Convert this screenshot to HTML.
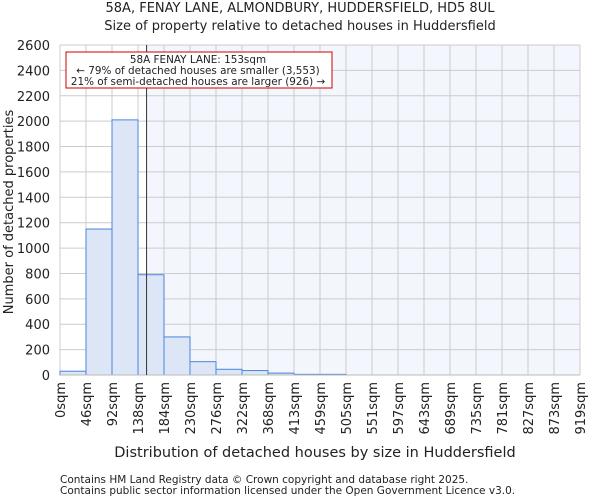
<!DOCTYPE html>
<html><head><meta charset="utf-8"><style>
body{margin:0;background:#fff;font-family:"DejaVu Sans","Liberation Sans",sans-serif;}
svg text{font-family:"DejaVu Sans","Liberation Sans",sans-serif;fill:#222}
</style></head><body>
<svg id="c" width="600" height="500">
<text x="300" y="12" font-size="13" text-anchor="middle">58A, FENAY LANE, ALMONDBURY, HUDDERSFIELD, HD5 8UL</text>
<text x="300" y="30" font-size="13" text-anchor="middle">Size of property relative to detached houses in Huddersfield</text>
<g id="plot"></g>
<text x="315" y="457" font-size="14.5" text-anchor="middle">Distribution of detached houses by size in Huddersfield</text>
<text transform="translate(13,212) rotate(-90)" font-size="13" text-anchor="middle">Number of detached properties</text>
<text x="60" y="483" font-size="10.5" fill="#444">Contains HM Land Registry data © Crown copyright and database right 2025.</text>
<text x="60" y="494" font-size="10.5" fill="#444">Contains public sector information licensed under the Open Government Licence v3.0.</text>
</svg>
<script>
const categories=["0sqm","46sqm","92sqm","138sqm","184sqm","230sqm","276sqm","322sqm","368sqm","413sqm","459sqm","505sqm","551sqm","597sqm","643sqm","689sqm","735sqm","781sqm","827sqm","873sqm","919sqm"];
const counts=[30,1150,2010,790,300,105,45,35,15,5,5,0,0,0,0,0,0,0,0,0];
const yTicks=[0,200,400,600,800,1000,1200,1400,1600,1800,2000,2200,2400,2600];
const propertySize=153;
const binWidthSqm=45.95;
const NS="http://www.w3.org/2000/svg";
const g=document.getElementById('plot');
const x0=60,x1=580,yTop=45,yBot=375,yMax=2600;
const bw=(x1-x0)/counts.length;
const ys=v=>yBot-v/yMax*(yBot-yTop);
const xs=s=>x0+s/binWidthSqm*bw;
function el(t,a){const e=document.createElementNS(NS,t);for(const k in a)e.setAttribute(k,a[k]);g.appendChild(e);return e;}
const mx=xs(propertySize);
let r=el('rect',{x:x0,y:yTop,width:mx-x0,height:yBot-yTop,fill:'#ffffff'});

r=el('rect',{x:mx,y:yTop,width:x1-mx,height:yBot-yTop,fill:'#f3f6fd'});

for(let i=0;i<=counts.length;i++){const l=el('line',{x1:x0+i*bw,x2:x0+i*bw,y1:yTop,y2:yBot,stroke:'#cccccc'});
}
yTicks.forEach(v=>{const l=el('line',{x1:x0,x2:x1,y1:ys(v),y2:ys(v),stroke:'#cccccc'});

const t=el('text',{x:x0-10,y:ys(v)+5,'font-size':13,'text-anchor':'end'});t.textContent=v;
});
counts.forEach((c,i)=>{if(c<=0)return;const b=el('rect',{x:x0+i*bw,y:ys(c),width:bw,height:yBot-ys(c),fill:'#dce6f7',stroke:'#4a86d8','stroke-width':1});
});
categories.forEach((c,i)=>{const x=x0+i*bw;const t=el('text',{transform:`translate(${x+5},${382}) rotate(-90)`,'font-size':13,'text-anchor':'end'});t.textContent=c;
});
const ax=el('line',{x1:x0,x2:x1,y1:yBot,y2:yBot,stroke:'#bbb'});

const ml=el('line',{x1:mx,x2:mx,y1:yTop,y2:yBot,stroke:'#333','stroke-width':1});

const box=el('rect',{x:66,y:52,width:266,height:36,fill:'#fff',stroke:'#cc0000'});

["58A FENAY LANE: 153sqm","← 79% of detached houses are smaller (3,553)","21% of semi-detached houses are larger (926) →"].forEach((s,i)=>{
const t=el('text',{x:198,y:63+i*11,'font-size':10.4,'text-anchor':'middle'});t.textContent=s;
});
</script>
</body></html>
